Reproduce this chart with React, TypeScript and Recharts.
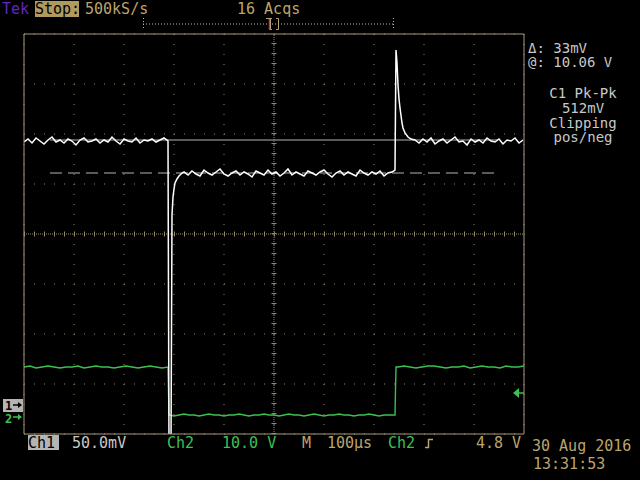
import React from 'react';
import {
  CartesianGrid,
  ComposedChart,
  Line,
  ReferenceDot,
  ReferenceLine,
  XAxis,
  YAxis,
} from 'recharts';

// graticule: 10 x 100us, 8 vertical divisions
const TIME_DIVS = [0, 100, 200, 300, 400, 500, 600, 700, 800, 900, 1000];
const SCREEN_DIVS = [-4, -3, -2, -1, 0, 1, 2, 3, 4];
const FRAME_X_TICKS = Array.from({ length: 51 }, (_, i) => i * 20);
const FRAME_Y_TICKS = Array.from({ length: 41 }, (_, i) => -4 + i * 0.2);

// channel settings
const CH1_MV_PER_DIV = 50;
const CH1_ZERO_DIV = -3.42;
const CH2_V_PER_DIV = 10;
const CH2_ZERO_DIV = -3.66;
const SAMPLE_STEP = 8;

const CH1_PRE_START = 0;
const CH1_PRE = [263, 266, 262, 267, 264, 261, 265, 268, 263, 265, 262, 266, 264, 260, 265, 267, 263, 264, 266, 262, 265, 263, 268, 264, 261, 266, 264, 263, 267, 262, 265, 264, 266, 263, 265, 267, 264];
const CH1_DROP_T = [290, 292, 294, 296, 298, 300, 302, 306, 310, 316];
const CH1_DROP_MV = [-40, -40, -40, 190, 208, 216, 222, 226, 229, 232];
const CH1_MID_START = 320;
const CH1_MID = [233, 230, 234, 231, 229, 235, 232, 230, 233, 236, 231, 229, 232, 234, 230, 233, 231, 228, 234, 232, 230, 235, 231, 233, 229, 232, 236, 230, 233, 231, 229, 234, 232, 230, 233, 235, 231, 228, 232, 234, 230, 233, 231, 229, 235, 232, 230, 233, 231, 234, 229, 232, 233];
const CH1_SPIKE_T = [742, 743, 744, 746, 748, 750, 752, 756, 758, 762, 768, 774];
const CH1_SPIKE_MV = [235, 297, 355, 342, 320, 306, 297, 282, 277, 272, 268, 266];
const CH1_POST_START = 782;
const CH1_POST = [265, 262, 266, 263, 267, 261, 264, 266, 262, 265, 268, 263, 264, 260, 266, 263, 265, 262, 267, 264, 263, 266, 261, 265, 264, 267, 262, 265];

// Ch2 (V)
const CH2_STEP = 12;
const CH2_HIGH_A_START = 0;
const CH2_HIGH_A = [10.0, 10.2, 9.8, 10.0, 10.2, 10.0, 9.8, 10.0, 10.0, 10.2, 9.8, 10.0, 10.2, 10.0, 10.0, 9.8, 10.0, 10.2, 10.0, 9.8, 10.0, 10.2, 10.0, 9.8, 10.0];
const CH2_LOW_START = 290;
const CH2_LOW_STEP = 10;
const CH2_LOW = [0.4, 0.2, 0.4, 0.6, 0.4, 0.4, 0.2, 0.4, 0.6, 0.4, 0.4, 0.2, 0.4, 0.4, 0.6, 0.4, 0.2, 0.4, 0.4, 0.6, 0.4, 0.4, 0.2, 0.4, 0.6, 0.4, 0.4, 0.2, 0.4, 0.6, 0.4, 0.2, 0.4, 0.4, 0.6, 0.4, 0.4, 0.2, 0.4, 0.4, 0.6, 0.4, 0.2, 0.4, 0.4, 0.4];
const CH2_RISE_T = [742, 743, 744];
const CH2_RISE_V = [0.4, 5.4, 10.0];
const CH2_HIGH_B_START = 748;
const CH2_HIGH_B = [10.0, 10.2, 10.0, 9.8, 10.0, 10.2, 10.2, 10.0, 9.8, 10.0, 10.0, 10.2, 9.8, 10.0, 10.2, 10.0, 10.0, 9.8, 10.2, 10.0, 10.0, 10.2];

// cursors + trigger
const CURSOR_A_MV = 265;
const CURSOR_B_MV = 232;
const CURSOR_T = [52, 948];
const TRIGGER_V = 4.8;

const TAN = '#bca46c';
const FRAME = '#a89a76';
const GRID = '#948868';
const GREEN = '#3cc050';
const LIGHT = '#c8c8c8';
const FONT = '"DejaVu Sans Mono", monospace';

const ch1Div = (mv: number) => mv / CH1_MV_PER_DIV + CH1_ZERO_DIV;
const ch2Div = (v: number) => v / CH2_V_PER_DIV + CH2_ZERO_DIV;

const sampled = (start: number, step: number, values: number[]) =>
  values.map((value, i) => ({ t: start + i * step, value }));
const paired = (times: number[], values: number[]) =>
  times.map((t, i) => ({ t, value: values[i] }));

const ch1Data = [
  ...sampled(CH1_PRE_START, SAMPLE_STEP, CH1_PRE),
  ...paired(CH1_DROP_T, CH1_DROP_MV),
  ...sampled(CH1_MID_START, SAMPLE_STEP, CH1_MID),
  ...paired(CH1_SPIKE_T, CH1_SPIKE_MV),
  ...sampled(CH1_POST_START, SAMPLE_STEP, CH1_POST),
].map((p) => ({ t: p.t, v: ch1Div(p.value) }));

const ch2Data = [
  ...sampled(CH2_HIGH_A_START, CH2_STEP, CH2_HIGH_A),
  ...sampled(CH2_LOW_START, CH2_LOW_STEP, CH2_LOW),
  ...paired(CH2_RISE_T, CH2_RISE_V),
  ...sampled(CH2_HIGH_B_START, CH2_STEP, CH2_HIGH_B),
].map((p) => ({ t: p.t, v: ch2Div(p.value) }));

function Ch1Marker({ cx, cy }: { cx?: number; cy?: number }) {
  const x = cx ?? 0;
  const y = cy ?? 0;
  return (
    <g>
      <rect x={x - 21} y={y - 6} width={20} height={13} fill="#b4b4b4" />
      <text x={x - 19} y={y + 5} fill="#000" fontSize={12} fontFamily={FONT} fontWeight="bold">1</text>
      <line x1={x - 11} y1={y} x2={x - 4} y2={y} stroke="#000" strokeWidth={1.5} />
      <polygon points={`${x - 6},${y - 3} ${x - 2},${y} ${x - 6},${y + 3}`} fill="#000" />
    </g>
  );
}

function Ch2Marker({ cx, cy }: { cx?: number; cy?: number }) {
  const x = cx ?? 0;
  const y = cy ?? 0;
  return (
    <g>
      <text x={x - 19} y={y + 6} fill={GREEN} fontSize={12} fontFamily={FONT} fontWeight="bold">2</text>
      <line x1={x - 11} y1={y} x2={x - 4} y2={y} stroke={GREEN} strokeWidth={1.5} />
      <polygon points={`${x - 6},${y - 3} ${x - 2},${y} ${x - 6},${y + 3}`} fill={GREEN} />
    </g>
  );
}

function TriggerArrow({ cx, cy }: { cx?: number; cy?: number }) {
  const x = cx ?? 0;
  const y = cy ?? 0;
  return (
    <g>
      <polygon points={`${x - 11},${y} ${x - 5},${y - 5} ${x - 5},${y + 5}`} fill={GREEN} />
      <line x1={x - 5} y1={y} x2={x} y2={y} stroke={GREEN} strokeWidth={1.5} />
    </g>
  );
}

function Readouts() {
  const t = { fontFamily: FONT, fontSize: 15 } as const;
  const r = { fontFamily: FONT, fontSize: 14 } as const;
  return (
    <svg width={640} height={480} style={{ position: 'absolute', left: 0, top: 0, pointerEvents: 'none' }}>
      {/* top status line */}
      <text x={2} y={14} fill="#6226c0" {...t}>Tek</text>
      <rect x={35} y={1} width={44} height={16} fill="#b09a60" />
      <text x={35} y={14} fill="#000" {...t}>Stop:</text>
      <text x={85} y={14} fill={TAN} {...t}>500kS/s</text>
      <text x={237} y={14} fill={TAN} {...t}>16 Acqs</text>

      {/* record bar */}
      <line x1={143} y1={24} x2={393} y2={24} stroke="#bdbdbd" strokeDasharray="1 2" />
      <line x1={143.5} y1={18} x2={143.5} y2={30} stroke="#bdbdbd" strokeDasharray="1 2" />
      <line x1={393.5} y1={18} x2={393.5} y2={30} stroke="#bdbdbd" strokeDasharray="1 2" />
      <line x1={266} y1={18.5} x2={272} y2={18.5} stroke={TAN} />
      <line x1={269.5} y1={19} x2={269.5} y2={30} stroke="#c02ab0" strokeWidth={1.5} />
      <path d="M272 18.5 H270.5 V29.5 H272" stroke={TAN} fill="none" />
      <path d="M276 18.5 H278.5 V29.5 H276" stroke={TAN} fill="none" />

      {/* cursor readouts */}
      <text x={528} y={53} fill={LIGHT} {...r}>Δ: 33mV</text>
      <text x={528} y={67} fill={LIGHT} {...r}>@: 10.06 V</text>
      <text x={583} y={98} fill={LIGHT} textAnchor="middle" {...r}>C1 Pk-Pk</text>
      <text x={583} y={113} fill={LIGHT} textAnchor="middle" {...r}>512mV</text>
      <text x={583} y={128} fill={LIGHT} textAnchor="middle" {...r}>Clipping</text>
      <text x={583} y={142} fill={LIGHT} textAnchor="middle" {...r}>pos/neg</text>

      {/* bottom settings line */}
      <rect x={28} y={435} width={31} height={15} fill="#b4b4b4" />
      <text x={28} y={448} fill="#000" {...t}>Ch1</text>
      <text x={72} y={448} fill={LIGHT} {...t}>50.0mV</text>
      <text x={167} y={448} fill={GREEN} {...t}>Ch2</text>
      <text x={222} y={448} fill={GREEN} {...t}>10.0 V</text>
      <text x={302} y={448} fill={TAN} {...t}>M</text>
      <text x={327} y={448} fill={TAN} {...t}>100µs</text>
      <text x={388} y={448} fill={GREEN} {...t}>Ch2</text>
      <path d="M425 447.5 H428.5 V439.5 H433" stroke={TAN} strokeWidth={1.5} fill="none" />
      <text x={476} y={448} fill={TAN} {...t}>4.8 V</text>
      <text x={532} y={451} fill={TAN} {...t}>30 Aug 2016</text>
      <text x={533} y={469} fill={TAN} {...t}>13:31:53</text>
    </svg>
  );
}

export default function App() {
  const frameTick = { stroke: FRAME, strokeDasharray: '1 1' };
  return (
    <div style={{ position: 'fixed', left: 0, top: 0, width: 640, height: 480, background: '#000', overflow: 'hidden' }}>
      <ComposedChart width={640} height={480} margin={{ top: 34, right: 116, bottom: 46, left: 24 }}>
        <XAxis xAxisId={0} type="number" dataKey="t" domain={[0, 1000]} ticks={TIME_DIVS} allowDataOverflow hide />
        <YAxis yAxisId={0} type="number" domain={[-4, 4]} ticks={SCREEN_DIVS} allowDataOverflow hide />
        <XAxis xAxisId="top" orientation="top" type="number" domain={[0, 1000]} ticks={FRAME_X_TICKS} allowDataOverflow mirror tick={false} tickSize={4} tickLine={frameTick} stroke={FRAME} />
        <XAxis xAxisId="bottom" orientation="bottom" type="number" domain={[0, 1000]} ticks={FRAME_X_TICKS} allowDataOverflow mirror tick={false} tickSize={4} tickLine={frameTick} stroke={FRAME} />
        <YAxis yAxisId="left" orientation="left" type="number" domain={[-4, 4]} ticks={FRAME_Y_TICKS} allowDataOverflow mirror tick={false} tickSize={4} tickLine={frameTick} stroke={FRAME} />
        <YAxis yAxisId="right" orientation="right" type="number" domain={[-4, 4]} ticks={FRAME_Y_TICKS} allowDataOverflow mirror tick={false} tickSize={4} tickLine={frameTick} stroke={FRAME} />
        <CartesianGrid stroke={GRID} strokeDasharray="1 9" />
        <ReferenceLine x={500} stroke={GRID} strokeDasharray="1 1" />
        <ReferenceLine y={0} stroke={GRID} strokeDasharray="1 1" />
        <ReferenceLine x={500} stroke={GRID} strokeWidth={5} strokeDasharray="1 9" />
        <ReferenceLine y={0} stroke={GRID} strokeWidth={5} strokeDasharray="1 9" />
        <ReferenceLine
          segment={[{ x: CURSOR_T[0], y: ch1Div(CURSOR_A_MV) }, { x: CURSOR_T[1], y: ch1Div(CURSOR_A_MV) }]}
          stroke="#b4b4b4"
        />
        <ReferenceLine
          segment={[{ x: CURSOR_T[0], y: ch1Div(CURSOR_B_MV) }, { x: CURSOR_T[1], y: ch1Div(CURSOR_B_MV) }]}
          stroke="#b4b4b4"
          strokeDasharray="12 6"
        />
        <Line data={ch2Data} dataKey="v" type="linear" stroke={GREEN} strokeWidth={1.4} dot={false} isAnimationActive={false} />
        <Line data={ch1Data} dataKey="v" type="linear" stroke="#ffffff" strokeWidth={1.5} dot={false} isAnimationActive={false} />
        <ReferenceDot x={0} y={ch1Div(0)} shape={<Ch1Marker />} ifOverflow="visible" />
        <ReferenceDot x={0} y={ch2Div(0)} shape={<Ch2Marker />} ifOverflow="visible" />
        <ReferenceDot x={1000} y={ch2Div(TRIGGER_V)} shape={<TriggerArrow />} ifOverflow="visible" />
      </ComposedChart>
      <Readouts />
    </div>
  );
}
